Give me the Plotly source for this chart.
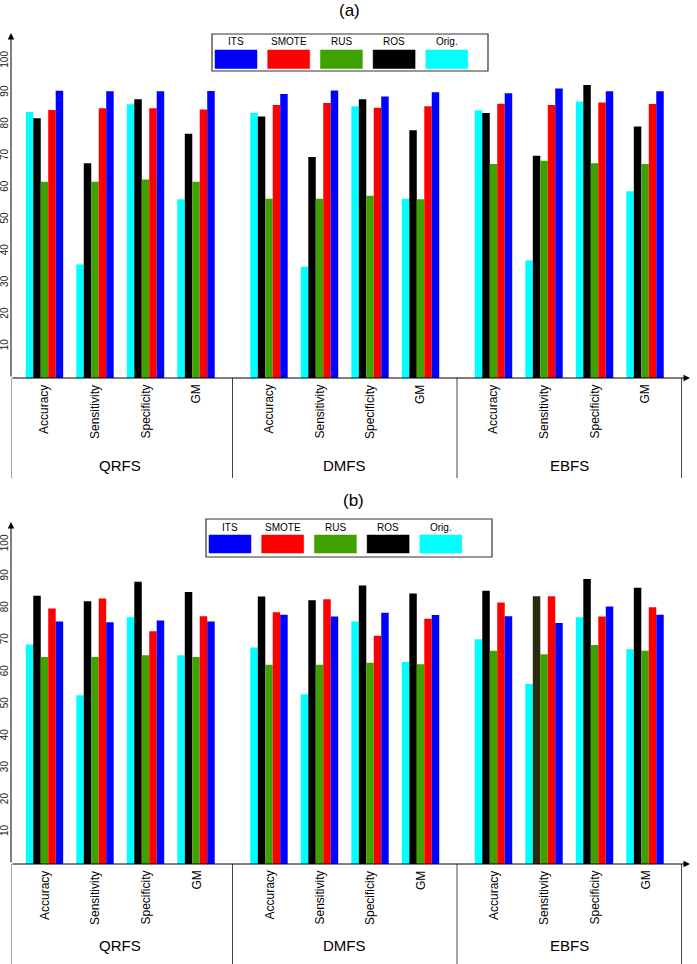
import plotly.graph_objects as go

W, H = 697, 964

groups = ["QRFS", "DMFS", "EBFS"]
metrics = ["Accuracy", "Sensitivity", "Specificity", "GM"]
series = ["Orig.", "ROS", "RUS", "SMOTE", "ITS"]
legend_order = ["ITS", "SMOTE", "RUS", "ROS", "Orig."]
colors = {"Orig.": "#00FFFF", "ROS": "#000000", "RUS": "#3FA200",
          "SMOTE": "#FF0000", "ITS": "#0000FF"}

# Panel (a) values: QRFS(4 metrics), DMFS(4), EBFS(4)
a_orig = [83.9, 35.8, 86.3, 56.4, 83.6, 35.1, 85.7, 56.5, 84.4, 37.1, 87.2, 58.9]
a_ros = [81.9, 67.7, 87.9, 77.0, 82.5, 69.7, 87.9, 78.1, 83.6, 70.1, 92.4, 79.3]
a_rus = [61.9, 61.9, 62.6, 61.9, 56.5, 56.5, 57.5, 56.4, 67.5, 68.5, 67.7, 67.5]
a_smote = [84.5, 85.1, 85.1, 84.7, 86.1, 86.7, 85.2, 85.7, 86.5, 86.1, 86.9, 86.4]
a_its = [90.6, 90.4, 90.4, 90.5, 89.6, 90.7, 88.8, 90.1, 89.8, 91.3, 90.4, 90.4]

# Panel (b) values
b_orig = [68.7, 52.8, 77.2, 65.3, 67.7, 53.1, 75.9, 63.2, 70.3, 56.3, 77.2, 67.2]
b_ros = [83.9, 82.2, 88.3, 85.1, 83.7, 82.5, 87.1, 84.6, 85.5, 83.8, 89.2, 86.4]
b_rus = [64.8, 64.8, 65.3, 64.8, 62.3, 62.3, 63.0, 62.5, 66.7, 65.6, 68.5, 66.7]
b_smote = [79.9, 83.1, 72.8, 77.5, 78.8, 82.8, 71.4, 76.7, 81.8, 83.8, 77.4, 80.3]
b_its = [75.9, 75.6, 76.2, 75.9, 78.0, 77.4, 78.6, 77.9, 77.5, 75.4, 80.6, 78.0]

ticks = [10, 20, 30, 40, 50, 60, 70, 80, 90, 100]

panel_a = dict(zip(series, [a_orig, a_ros, a_rus, a_smote, a_its]))
panel_b = dict(zip(series, [b_orig, b_ros, b_rus, b_smote, b_its]))


def fx(p):
    return p / W


def fy(p):
    return 1 - p / H


GAP = 0.445
nm = len(metrics)
pos = [g * (nm + GAP) + m for g in range(len(groups)) for m in range(nm)]
XMIN, XMAX = -0.663, 12.78
sep_x = [XMIN] + [g * (nm + GAP) + nm - 1 + (1 + GAP) / 2 for g in range(len(groups))]

fig = go.Figure()

panels = [
    dict(data=panel_a, xa="x", ya="y", top=33, base=378, bottom=478, ymax=108.8,
         title="(a)", title_xy=(349, 11), leg=(212, 34, 488, 71), leg_lab=42, leg_sw=(50, 68.5),
         glab=465),
    dict(data=panel_b, xa="x2", ya="y2", top=522, base=864, bottom=964, ymax=107,
         title="(b)", title_xy=(353, 500), leg=(206, 519, 492, 557), leg_lab=527, leg_sw=(535, 553),
         glab=945),
]

for i, p in enumerate(panels):
    for s in series:
        mc = colors[s]
        if i == 1 and s == "ROS":
            mc = [colors[s]] * len(pos)
            mc[9] = "#2A2A0C"
        fig.add_trace(go.Bar(x=pos, y=p["data"][s], name=s, marker=dict(color=mc, line=dict(width=0)),
                             xaxis=p["xa"], yaxis=p["ya"], showlegend=False))

annotations = []
shapes = []
NARROW = "Liberation Sans Narrow, Arial Narrow, Liberation Sans, Arial"
REG = "Liberation Sans, Arial"

for i, p in enumerate(panels):
    xa, ya = p["xa"], p["ya"]
    # axis arrows
    annotations.append(dict(x=XMIN, y=p["ymax"], ax=XMIN, ay=0, xref=xa, yref=ya,
                            axref=xa, ayref=ya, showarrow=True, arrowhead=2, arrowsize=1.3,
                            arrowwidth=1, arrowcolor="#000", text="", standoff=0))
    annotations.append(dict(x=XMAX, y=0, ax=XMIN, ay=0, xref=xa, yref=ya,
                            axref=xa, ayref=ya, showarrow=True, arrowhead=2, arrowsize=1.3,
                            arrowwidth=1, arrowcolor="#000", text="", standoff=0))
    # separators
    for sx in sep_x:
        shapes.append(dict(type="line", xref=xa, yref="paper", x0=sx, x1=sx,
                           y0=fy(p["base"]), y1=fy(p["bottom"]), line=dict(color="#444", width=1)))
    # category labels
    for k, xp in enumerate(pos):
        annotations.append(dict(x=xp, y=fy(p["base"] + 5), xref=xa, yref="paper", text=metrics[k % nm],
                                showarrow=False, textangle=-90, xanchor="center", yanchor="top",
                                font=dict(family=REG, size=12, color="#000")))
    # group labels
    for g, gname in enumerate(groups):
        cx = g * (nm + GAP) + (nm - 1) / 2
        annotations.append(dict(x=cx, y=fy(p["glab"]), xref=xa, yref="paper", text=gname,
                                showarrow=False, xanchor="center", yanchor="middle",
                                font=dict(family=NARROW, size=15, color="#000")))
    # title
    annotations.append(dict(x=fx(p["title_xy"][0]), y=fy(p["title_xy"][1]), xref="paper", yref="paper",
                            text=p["title"], showarrow=False, xanchor="center", yanchor="middle",
                            font=dict(family=REG, size=17, color="#000")))
    # legend box
    lx0, ly0, lx1, ly1 = p["leg"]
    shapes.append(dict(type="rect", xref="paper", yref="paper", x0=fx(lx0), x1=fx(lx1),
                       y0=fy(ly1), y1=fy(ly0), line=dict(color="#333", width=1.2), fillcolor="white"))
    sw_w = 42
    step = 52.7
    for j, name in enumerate(legend_order):
        sx0 = lx0 + 3 + j * step
        shapes.append(dict(type="rect", xref="paper", yref="paper", x0=fx(sx0), x1=fx(sx0 + sw_w),
                           y0=fy(p["leg_sw"][1]), y1=fy(p["leg_sw"][0]),
                           line=dict(color=colors[name], width=0.5), fillcolor=colors[name]))
        annotations.append(dict(x=fx(sx0 + sw_w / 2), y=fy(p["leg_lab"]), xref="paper", yref="paper",
                                text=name, showarrow=False, xanchor="center", yanchor="middle",
                                font=dict(family=NARROW, size=10, color="#000")))

axis_common = dict(showgrid=False, zeroline=False, showline=False, automargin=False)
fig.update_layout(
    width=W, height=H, margin=dict(l=0, r=0, t=0, b=0, autoexpand=False),
    paper_bgcolor="white", plot_bgcolor="white",
    barmode="group", bargap=0.26, bargroupgap=0,
    xaxis=dict(domain=[fx(11), fx(690)], range=[XMIN, XMAX], anchor="y", showticklabels=False,
               ticks="", **axis_common),
    yaxis=dict(domain=[fy(378), fy(33)], range=[0, panels[0]["ymax"]], anchor="x",
               tickvals=ticks, tickangle=-90, ticks="", ticklabelstandoff=0,
               tickfont=dict(family=NARROW, size=10, color="#222"), **axis_common),
    xaxis2=dict(domain=[fx(11), fx(690)], range=[XMIN, XMAX], anchor="y2", showticklabels=False,
                ticks="", **axis_common),
    yaxis2=dict(domain=[fy(864), fy(522)], range=[0, panels[1]["ymax"]], anchor="x2",
                tickvals=ticks, tickangle=-90, ticks="", ticklabelstandoff=0,
                tickfont=dict(family=NARROW, size=10, color="#222"), **axis_common),
    annotations=annotations, shapes=shapes,
)

fig.write_html("out.html", config={"displayModeBar": False},
               post_script="document.body.style.margin='0';document.body.style.overflow='hidden';")
